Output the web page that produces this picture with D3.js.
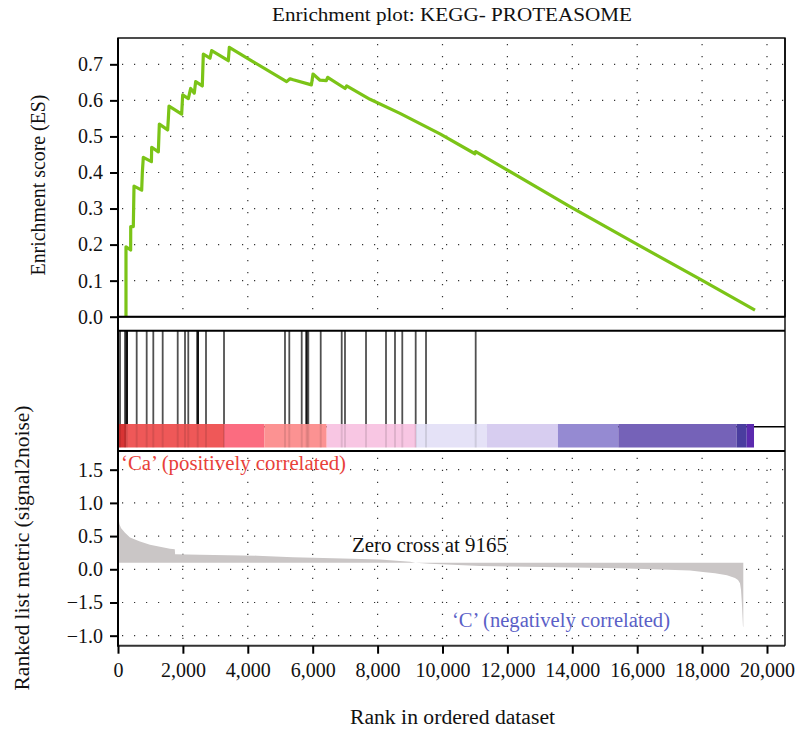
<!DOCTYPE html>
<html>
<head>
<meta charset="utf-8">
<script src="https://cdn.jsdelivr.net/npm/d3@7"></script>
<style>
  html, body { margin: 0; padding: 0; background: #fff; }
  svg { display: block; }
  text { font-family: "Liberation Serif", "DejaVu Serif", serif; }
</style>
</head>
<body>
<svg id="chart" width="796" height="733"></svg>
<script>
// ---- data -------------------------------------------------------------
const rankMax = 20555;                       // right edge of the rank axis
const rankTicks = [0, 2000, 4000, 6000, 8000, 10000, 12000, 14000, 16000, 18000, 20000];
const esTicks = [0, 0.1, 0.2, 0.3, 0.4, 0.5, 0.6, 0.7];
const metricTicks = [1.5, 1.0, 0.5, 0.0, -0.5, -1.0];
const metricTickLabels = ["1.5", "1.0", "0.5", "0.0", "\u22121.5", "\u22121.0"];

// running enrichment score
const esRank = [246, 246, 390, 392, 472, 493, 730, 750, 780, 1030, 1038, 1243, 1274, 1530, 1552, 1572,
  1962, 1993, 2167, 2240, 2351, 2393, 2598, 2629, 2835, 2887, 3400, 3430, 4170, 5197, 5300, 5400,
  5960, 6010, 6225, 6420, 6462, 7000, 7047, 7766, 8690, 9923, 11000, 11023, 13929, 15932, 17935, 19630];
const esValue = [0, 0.194, 0.185, 0.25, 0.25, 0.362, 0.351, 0.40, 0.442, 0.43, 0.47, 0.457, 0.534, 0.518, 0.55, 0.584,
  0.562, 0.615, 0.605, 0.633, 0.62, 0.652, 0.64, 0.728, 0.717, 0.738, 0.71, 0.747, 0.707, 0.652, 0.660, 0.657,
  0.643, 0.673, 0.656, 0.655, 0.664, 0.633, 0.640, 0.603, 0.564, 0.507, 0.452, 0.458, 0.305, 0.204, 0.104, 0.018];

// positions of the gene-set members in the ranked list
const hitRanks = [62, 216, 268, 576, 884, 1088, 1377, 1840, 2065, 2166, 2456, 2712, 3267, 5146, 5279,
  5661, 5815, 5865, 6247, 6894, 6995, 7643, 8259, 8536, 8761, 9174, 9492, 11023];
const hitStrong = [268, 2456, 5815];

// ranked list metric (signal2noise)
const metricRank = [0, 20, 46, 92, 216, 370, 678, 986, 1294, 1602, 1750, 1760, 2527, 4283, 5393, 6934,
  8074, 9000, 9165, 9615, 11156, 13621, 15470, 16703, 17627, 18028, 18398, 18767, 19014, 19106, 19168,
  19199, 19230, 19260, 19270];
const metricValue = [0.69, 0.66, 0.58, 0.52, 0.45, 0.38, 0.32, 0.27, 0.24, 0.21, 0.20, 0.128, 0.12, 0.105, 0.083, 0.063,
  0.048, 0.015, 0, -0.015, -0.05, -0.068, -0.083, -0.105, -0.12, -0.14, -0.16, -0.19, -0.23, -0.26, -0.31,
  -0.41, -0.64, -0.96, -0.97];
const zeroCross = 9165;

// heat bar of the ranked list
const heatBreaks = [0, 246, 3267, 4508, 6431, 9183, 11371, 13559, 15418, 19066, 19374, 19600];
const heatColors = ["#d83434", "#ef5858", "#fb6c80", "#fc9292", "#f8c6e3", "#e5e2f7",
  "#d7cdf0", "#958ad2", "#7562b8", "#4a3d9f", "#5b2aae"];

// ---- layout -----------------------------------------------------------
const L = 118, R = 785;
const topY0 = 38, topY1 = 316.7;
const midY0 = 330.7, midY1 = 451;
const barY0 = 424, barY1 = 447.5;
const botY0 = 451.7, botY1 = 645.7;
const metricOffset = 0.1;   // level of the metric baseline on the drawn axis

const svg = d3.select("#chart");
const x = d3.scaleLinear().domain([0, rankMax]).range([L, R]);
const yES = d3.scaleLinear().domain([0, 0.773]).range([topY1, topY0]);
const yM = d3.scaleLinear().domain([-1.151, 1.771]).range([botY1, botY0]);

const gridStyle = s => s.attr("stroke", "#333").attr("stroke-width", 1.2).attr("stroke-dasharray", "1.2 10.8");

// ---- grids ------------------------------------------------------------
const gTop = svg.append("g");
gTop.selectAll("line.h").data(esTicks.filter(d => d > 0)).join("line")
  .attr("x1", L + 4).attr("x2", R).attr("y1", d => yES(d)).attr("y2", d => yES(d)).call(gridStyle);
gTop.selectAll("line.v").data(rankTicks.filter(d => d > 0)).join("line")
  .attr("x1", d => x(d)).attr("x2", d => x(d)).attr("y1", topY0 + 6).attr("y2", topY1).call(gridStyle);

const gBot = svg.append("g");
gBot.selectAll("line.h").data(metricTicks).join("line")
  .attr("x1", L + 4).attr("x2", R).attr("y1", d => yM(d)).attr("y2", d => yM(d)).call(gridStyle);
gBot.selectAll("line.v").data(rankTicks.filter(d => d > 0)).join("line")
  .attr("x1", d => x(d)).attr("x2", d => x(d)).attr("y1", botY0 + 6).attr("y2", botY1).call(gridStyle);

// ---- enrichment score line -------------------------------------------
const esData = esRank.map((r, i) => [r, esValue[i]]);
svg.append("path")
  .datum(esData)
  .attr("fill", "none")
  .attr("stroke", "#7bc417")
  .attr("stroke-width", 3.2)
  .attr("stroke-linejoin", "round")
  .attr("d", d3.line().x(d => x(d[0])).y(d => yES(d[1])));

// ---- hits and heat bar -------------------------------------------------
svg.append("line").attr("x1", L).attr("x2", R).attr("y1", 426.7).attr("y2", 426.7)
  .attr("stroke", "#000").attr("stroke-width", 1.6);

const heat = heatColors.map((c, i) => ({ a: heatBreaks[i], b: heatBreaks[i + 1], c }));
svg.append("g").selectAll("rect").data(heat).join("rect")
  .attr("x", d => x(d.a)).attr("width", d => x(d.b) - x(d.a))
  .attr("y", barY0).attr("height", barY1 - barY0)
  .attr("fill", d => d.c);

svg.append("g").selectAll("line").data(hitRanks).join("line")
  .attr("x1", d => x(d)).attr("x2", d => x(d))
  .attr("y1", midY0).attr("y2", barY0)
  .attr("stroke", d => hitStrong.includes(d) ? "#111" : "#505050")
  .attr("stroke-width", d => hitStrong.includes(d) ? 2.6 : 1.8);

svg.append("g").selectAll("line").data(hitRanks).join("line")
  .attr("x1", d => x(d)).attr("x2", d => x(d))
  .attr("y1", barY0).attr("y2", barY1)
  .attr("stroke", "#000").attr("stroke-opacity", 0.1).attr("stroke-width", 2);

// ---- ranked list metric area -----------------------------------------
const metricData = metricRank.map((r, i) => [r, metricValue[i]]);
svg.append("path")
  .datum(metricData)
  .attr("fill", "#cac6c6")
  .attr("d", d3.area()
    .x(d => x(d[0]))
    .y0(yM(metricOffset))
    .y1(d => yM(d[1] + metricOffset)));

// ---- frames ------------------------------------------------------------
svg.append("rect").attr("x", L).attr("y", topY0).attr("width", R - L).attr("height", topY1 - topY0)
  .attr("fill", "none").attr("stroke", "#000").attr("stroke-width", 1.4);
svg.append("line").attr("x1", L).attr("x2", R).attr("y1", topY1).attr("y2", topY1)
  .attr("stroke", "#000").attr("stroke-width", 2);
svg.append("line").attr("x1", L).attr("x2", R).attr("y1", midY0).attr("y2", midY0)
  .attr("stroke", "#000").attr("stroke-width", 2);
svg.append("line").attr("x1", L).attr("x2", R).attr("y1", midY1).attr("y2", midY1)
  .attr("stroke", "#000").attr("stroke-width", 2);
svg.append("line").attr("x1", L).attr("x2", R).attr("y1", botY1).attr("y2", botY1)
  .attr("stroke", "#333").attr("stroke-width", 2);
svg.append("line").attr("x1", R).attr("x2", R).attr("y1", topY0).attr("y2", botY1)
  .attr("stroke", "#000").attr("stroke-width", 1.4);
svg.append("line").attr("x1", L).attr("x2", L).attr("y1", topY0).attr("y2", botY1 + 1)
  .attr("stroke", "#000").attr("stroke-width", 2);

// ---- axes --------------------------------------------------------------
function styleAxis(g) {
  g.select(".domain").remove();
  g.selectAll(".tick line").attr("stroke", "#000").attr("stroke-width", 2);
  g.selectAll(".tick text").attr("font-family", "Liberation Serif, serif")
    .attr("font-size", 20).attr("fill", "#111");
}

svg.append("g").attr("transform", `translate(${L},0)`)
  .call(d3.axisLeft(yES).tickValues(esTicks).tickFormat(d3.format(".1f")).tickSize(8).tickPadding(7))
  .call(styleAxis);

svg.append("g").attr("transform", `translate(${L},0)`)
  .call(d3.axisLeft(yM).tickValues(metricTicks)
    .tickFormat((d, i) => metricTickLabels[i]).tickSize(8).tickPadding(7))
  .call(styleAxis);

svg.append("g").attr("transform", `translate(0,${botY1})`)
  .call(d3.axisBottom(x).tickValues(rankTicks).tickFormat(d3.format(",")).tickSize(8).tickPadding(9))
  .call(styleAxis);

// ---- text --------------------------------------------------------------
function label(sel, width) {
  return sel.attr("textLength", width).attr("lengthAdjust", "spacingAndGlyphs");
}

svg.append("text").attr("x", 452).attr("y", 21).attr("text-anchor", "middle")
  .attr("font-size", 19).attr("fill", "#111").text("Enrichment plot: KEGG- PROTEASOME")
  .call(label, 360);

svg.append("text").attr("transform", "translate(45,185) rotate(-90)").attr("text-anchor", "middle")
  .attr("font-size", 20).attr("fill", "#111").text("Enrichment score (ES)")
  .call(label, 181);

svg.append("text").attr("transform", "translate(29,548) rotate(-90)").attr("text-anchor", "middle")
  .attr("font-size", 20).attr("fill", "#111").text("Ranked list metric (signal2noise)")
  .call(label, 285);

svg.append("text").attr("x", 452.5).attr("y", 724).attr("text-anchor", "middle")
  .attr("font-size", 20).attr("fill", "#111").text("Rank in ordered dataset")
  .call(label, 205);

svg.append("text").attr("x", L + 3).attr("y", 470).attr("font-size", 20).attr("fill", "#e8413a")
  .text("\u2018Ca\u2019 (positively correlated)")
  .call(label, 225);

svg.append("text").attr("x", x(zeroCross) + 14).attr("y", 552).attr("text-anchor", "middle")
  .attr("font-size", 20).attr("fill", "#111").text(`Zero cross at ${zeroCross}`)
  .call(label, 155);

svg.append("text").attr("x", 452).attr("y", 627).attr("font-size", 20).attr("fill", "#5b5fc7")
  .text("\u2018C\u2019 (negatively correlated)")
  .call(label, 218);
</script>
</body>
</html>
